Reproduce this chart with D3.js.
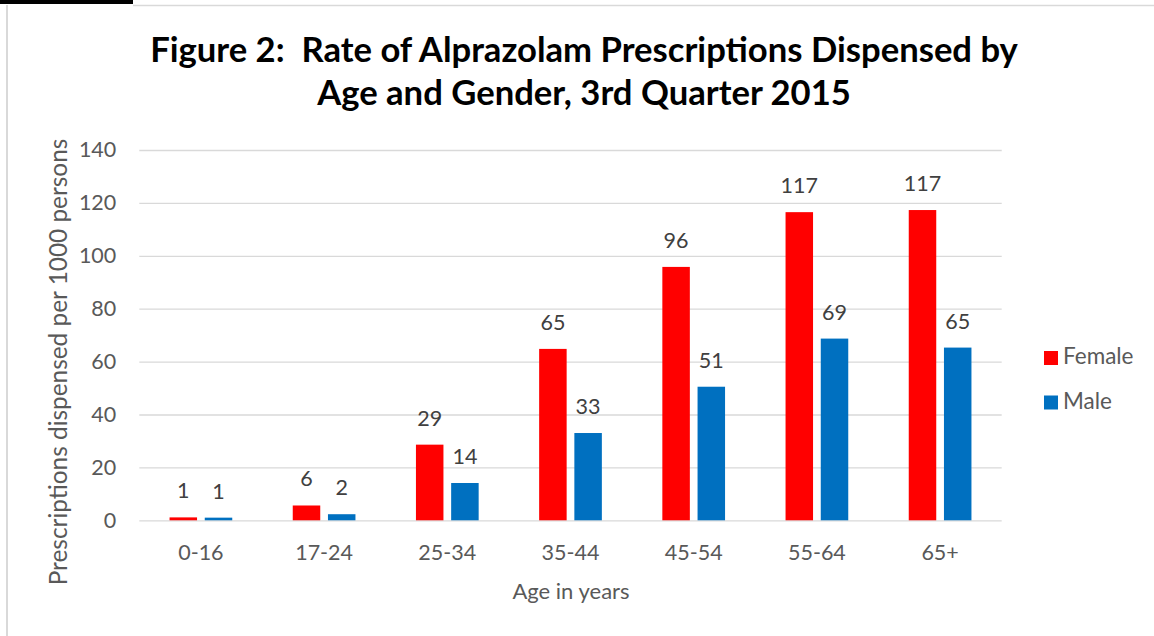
<!DOCTYPE html>
<html>
<head>
<meta charset="utf-8">
<script src="https://cdn.jsdelivr.net/npm/d3@7"></script>
<style>
  body { margin: 0; background: #fff; }
  text { font-family: Lato, "Open Sans", sans-serif; }
</style>
</head>
<body>
<div id="chart"></div>
<script>
// data
var ageGroups = ["0-16", "17-24", "25-34", "35-44", "45-54", "55-64", "65+"];
var seriesNames = ["Female", "Male"];
var femaleRates = [1.1, 5.6, 28.6, 64.8, 95.8, 116.5, 117.3];
var maleRates = [1.0, 2.3, 14.1, 33.0, 50.5, 68.7, 65.3];
var yTicks = [0, 20, 40, 60, 80, 100, 120, 140];
var colors = ["#FF0000", "#0070C0"];

var W = 1154, H = 636;
var plot = {left: 139.3, right: 1001.7, top: 150, bottom: 520.3};

var svg = d3.select("#chart").append("svg")
  .attr("width", W).attr("height", H);

// frame bits
svg.append("rect").attr("x", 0).attr("y", 0).attr("width", 133).attr("height", 4).attr("fill", "#000");
svg.append("line").attr("x1", 133).attr("x2", W).attr("y1", 5.5).attr("y2", 5.5)
  .attr("stroke", "#D9D9D9").attr("stroke-width", 1.5);
svg.append("line").attr("x1", 7).attr("x2", 7).attr("y1", 5).attr("y2", H)
  .attr("stroke", "#D9D9D9").attr("stroke-width", 2);

// title
var title = svg.append("text")
  .attr("text-anchor", "middle")
  .attr("font-weight", 700)
  .attr("fill", "#000")
  .attr("font-size", 33);
title.append("tspan").attr("x", 584).attr("y", 62).text("Figure 2:\u00a0\u00a0Rate of Alprazolam Prescriptions Dispensed by");
title.append("tspan").attr("x", 584).attr("y", 105).text("Age and Gender, 3rd Quarter 2015");
var tw = title.select("tspan").node().getComputedTextLength();
title.attr("font-size", 33 * 868 / tw);

// scales
var x0 = d3.scaleBand().domain(ageGroups).range([plot.left, plot.right]);
var x1 = d3.scaleBand().domain(seriesNames)
  .range([x0.bandwidth() * 0.2455, x0.bandwidth() * 0.7545])
  .paddingInner(0.219);
var y = d3.scaleLinear().domain([0, 140]).range([plot.bottom, plot.top]);

// y axis + gridlines
var yAxis = svg.append("g")
  .attr("transform", "translate(" + plot.left + ",0)")
  .call(d3.axisLeft(y).tickValues(yTicks).tickSize(-(plot.right - plot.left)).tickPadding(23));
yAxis.select(".domain").remove();
yAxis.selectAll(".tick line").attr("stroke", "#D9D9D9").attr("stroke-width", 1.3);
yAxis.selectAll(".tick text")
  .attr("fill", "#595959").attr("font-size", 21.5)
  .style("font-family", "Lato, sans-serif");

// x axis
var xAxis = svg.append("g")
  .attr("transform", "translate(0," + plot.bottom + ")")
  .call(d3.axisBottom(x0).tickSize(0));
xAxis.select(".domain").remove();
xAxis.selectAll(".tick text")
  .attr("y", 40).attr("dy", null)
  .attr("fill", "#595959").attr("font-size", 21.5)
  .style("font-family", "Lato, sans-serif");

// bars
var rows = ageGroups.map(function (g, i) {
  return {group: g, values: [femaleRates[i], maleRates[i]]};
});

var groups = svg.selectAll(".grp").data(rows).join("g")
  .attr("class", "grp")
  .attr("transform", function (d) { return "translate(" + x0(d.group) + ",0)"; });

groups.selectAll("rect")
  .data(function (d) { return d.values.map(function (v, k) { return {name: seriesNames[k], v: v, k: k}; }); })
  .join("rect")
  .attr("x", function (d) { return x1(d.name); })
  .attr("width", x1.bandwidth())
  .attr("y", function (d) { return y(d.v); })
  .attr("height", function (d) { return y(0) - y(d.v); })
  .attr("fill", function (d) { return colors[d.k]; });

groups.selectAll(".lbl")
  .data(function (d) { return d.values.map(function (v, k) { return {name: seriesNames[k], v: v, k: k}; }); })
  .join("text")
  .attr("class", "lbl")
  .attr("x", function (d) { return x1(d.name) + x1.bandwidth() / 2; })
  .attr("y", function (d) { return y(d.v) - 19; })
  .attr("text-anchor", "middle")
  .attr("font-size", 21.5)
  .attr("fill", "#404040")
  .text(function (d) { return Math.round(d.v); });

// axis titles
var yTitle = svg.append("text")
  .attr("transform", "translate(67,362) rotate(-90)")
  .attr("text-anchor", "middle")
  .attr("fill", "#595959")
  .attr("font-size", 22)
  .text("Prescriptions dispensed per 1000 persons");
var yl = yTitle.node().getComputedTextLength();
yTitle.attr("font-size", 22 * 447 / yl);

svg.append("text")
  .attr("x", 571).attr("y", 599)
  .attr("text-anchor", "middle")
  .attr("fill", "#595959")
  .attr("font-size", 22)
  .text("Age in years");

// legend
var legend = svg.selectAll(".leg").data(seriesNames).join("g")
  .attr("class", "leg")
  .attr("transform", function (d, i) { return "translate(1044," + (351 + i * 44.5) + ")"; });
legend.append("rect").attr("width", 14).attr("height", 14)
  .attr("fill", function (d, i) { return colors[i]; });
legend.append("text").attr("x", 19).attr("y", 13)
  .attr("fill", "#595959").attr("font-size", 22.5)
  .text(function (d) { return d; });
</script>
</body>
</html>
